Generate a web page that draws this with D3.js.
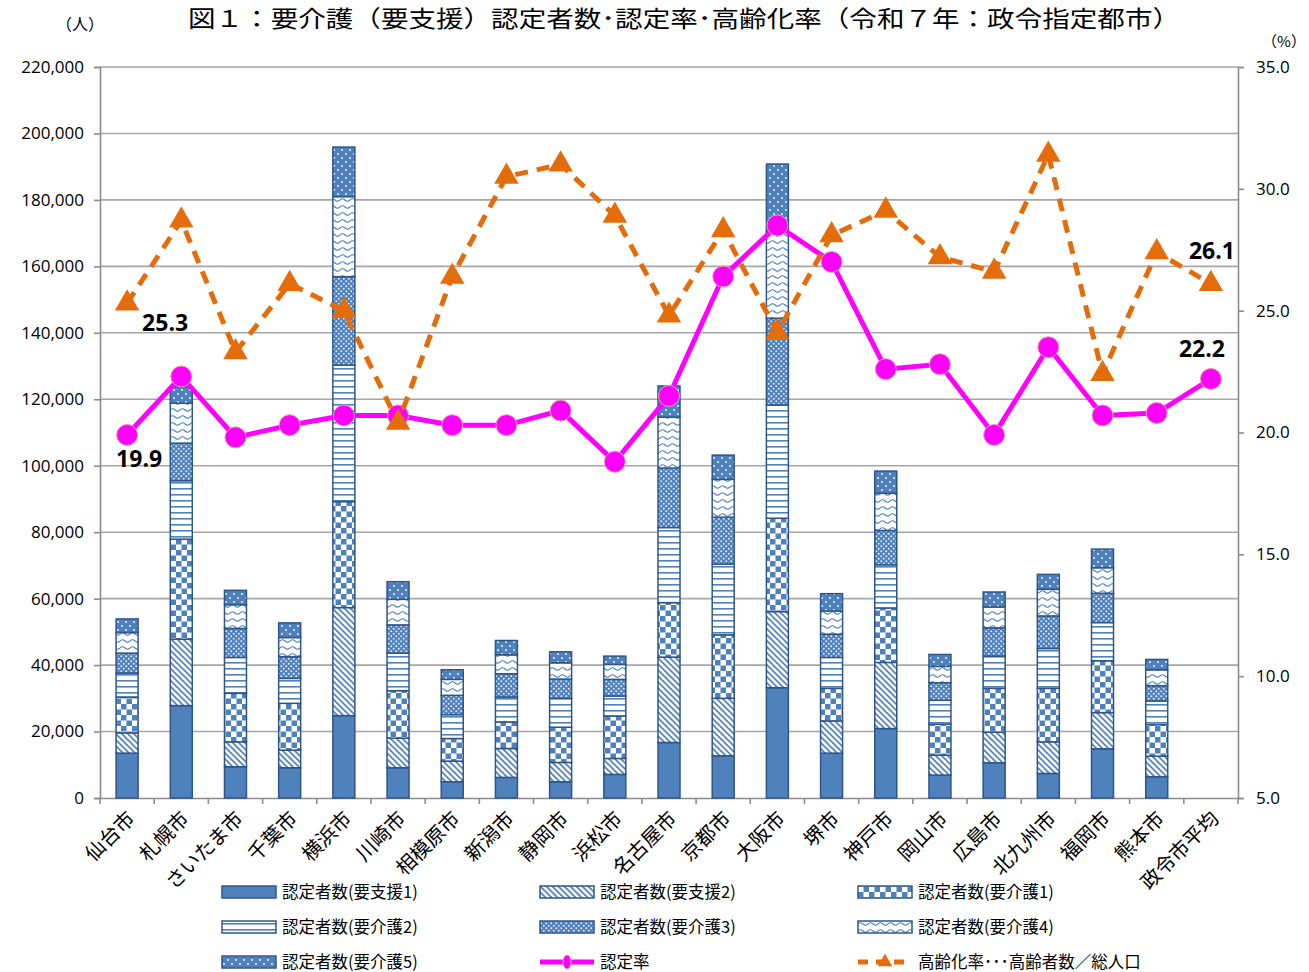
<!DOCTYPE html>
<html>
<head>
<meta charset="utf-8">
<script src="https://cdn.jsdelivr.net/npm/d3@7"></script>
<style>
  body { margin: 0; background: #fff; }
  svg { display: block; }
</style>
</head>
<body>
<div id="canvas"></div>
<script>
// --- data
var cities = ["仙台市","札幌市","さいたま市","千葉市","横浜市","川崎市","相模原市","新潟市","静岡市","浜松市","名古屋市",
              "京都市","大阪市","堺市","神戸市","岡山市","広島市","北九州市","福岡市","熊本市","政令市平均"];

var shien1 = [13500,27800, 9400, 9100,24800, 9100,4900,6200,4900,7100,16700,12700,33200,13500,20900,6900,10600, 7400,14800,6400,null];
var shien2 = [ 6100,20000, 7500, 5300,32500, 8900,6200,8700,5800,4800,25700,17300,22900, 9700,19900,6000, 9200, 9500,10900,6200,null];
var kaigo1 = [10800,30100,14600,14100,31900,14300,6800,8000,10600,12800,16400,19100,28100, 9800,16400,9300,13200,16100,15600,9500,null];
var kaigo2 = [ 7200,17600,10800, 7500,41100,11300,7200,7500,8700,6000,22600,21300,34100, 9300,13000,7200, 9700,12000,11500,7100,null];
var kaigo3 = [ 6000,11300, 8700, 6500,26600, 8500,5800,7000,5800,5000,17900,14100,26100, 7000,10300,5300, 8500, 9800, 8800,4600,null];
var kaigo4 = [ 6200,12000, 7200, 5800,24100, 7700,4800,5700,4900,4500,15300,11400,26000, 7000,11200,4900, 6300, 8000, 7700,4800,null];
var kaigo5 = [ 4100, 5000, 4300, 4400,14900, 5300,2900,4300,3300,2500, 9400, 7300,20400, 5200, 6700,3600, 4500, 4500, 5600,3100,null];

var ninteiRate = [19.9,22.3,19.8,20.3,20.7,20.7,20.3,20.3,20.9,18.8,21.5,26.4,28.5,27.0,22.6,22.8,19.9,23.5,20.7,20.8,22.2];
var agingRate  = [25.3,28.7,23.3,26.1,25.0,20.4,26.4,30.5,31.0,28.9,24.8,28.3,24.1,28.1,29.1,27.2,26.6,31.4,22.4,27.4,26.1];

var leftTicks  = [0,20000,40000,60000,80000,100000,120000,140000,160000,180000,200000,220000];
var rightTicks = [5,10,15,20,25,30,35];

var seriesNames = ["認定者数(要支援1)","認定者数(要支援2)","認定者数(要介護1)","認定者数(要介護2)",
                   "認定者数(要介護3)","認定者数(要介護4)","認定者数(要介護5)"];
var seriesData = [shien1, shien2, kaigo1, kaigo2, kaigo3, kaigo4, kaigo5];
var patternIds = ["pS1","pS2","pK1","pK2","pK3","pK4","pK5"];

// --- layout
var W = 1309, H = 972;
var M = {top: 67, right: 71, bottom: 174, left: 100};
var blue = "#4f81bd", dark = "#2f5689";
var fontJP = "'Noto Sans CJK JP', sans-serif";
var fontNum = "'Open Sans', 'Noto Sans', sans-serif";

var svg = d3.select("#canvas").append("svg")
  .attr("width", W).attr("height", H);

// --- patterns
var defs = svg.append("defs");
function pat(id, w, h) {
  return defs.append("pattern").attr("id", id)
    .attr("patternUnits", "userSpaceOnUse").attr("width", w).attr("height", h);
}
pat("pS1", 4, 4).append("rect").attr("width", 4).attr("height", 4).attr("fill", blue);

var p = pat("pS2", 6, 6);
p.append("rect").attr("width", 6).attr("height", 6).attr("fill", "#fff");
p.append("path").attr("d", "M-1,-1L7,7M-1,5L1,7M5,-1L7,1").attr("stroke", blue).attr("stroke-width", 1.6);

p = pat("pK1", 11, 11);
p.append("rect").attr("width", 11).attr("height", 11).attr("fill", "#fff");
p.append("rect").attr("width", 5.5).attr("height", 5.5).attr("fill", blue);
p.append("rect").attr("x", 5.5).attr("y", 5.5).attr("width", 5.5).attr("height", 5.5).attr("fill", blue);

p = pat("pK2", 6, 6);
p.append("rect").attr("width", 6).attr("height", 6).attr("fill", "#fff");
p.append("rect").attr("y", 2).attr("width", 6).attr("height", 1.6).attr("fill", blue);

p = pat("pK3", 5, 5);
p.append("rect").attr("width", 5).attr("height", 5).attr("fill", blue);
p.append("circle").attr("cx", 1.25).attr("cy", 1.25).attr("r", 1).attr("fill", "#dfe8f4");
p.append("circle").attr("cx", 3.75).attr("cy", 3.75).attr("r", 1).attr("fill", "#dfe8f4");

p = pat("pK4", 10, 7);
p.append("rect").attr("width", 10).attr("height", 7).attr("fill", "#fff");
p.append("path").attr("d", "M0,4 Q2.5,1.5 5,4 T10,4").attr("fill", "none").attr("stroke", blue).attr("stroke-width", 1.1);

p = pat("pK5", 8, 8);
p.append("rect").attr("width", 8).attr("height", 8).attr("fill", blue);
p.append("circle").attr("cx", 2).attr("cy", 2).attr("r", 0.9).attr("fill", "#fff");
p.append("circle").attr("cx", 6).attr("cy", 6).attr("r", 0.9).attr("fill", "#fff");

// --- scales
var x = d3.scaleBand().domain(cities).range([M.left, W - M.right]).padding(0);
var yL = d3.scaleLinear().domain([0, 220000]).range([H - M.bottom, M.top]);
var yR = d3.scaleLinear().domain([5, 35]).range([H - M.bottom, M.top]);
var barW = 22;

// --- title and unit labels
svg.append("text").attr("x", 684).attr("y", 27)
  .attr("text-anchor", "middle").attr("font-family", fontJP).attr("font-size", 23)
  .attr("textLength", 992).attr("lengthAdjust", "spacingAndGlyphs")
  .text("図１：要介護（要支援）認定者数･認定率･高齢化率（令和７年：政令指定都市）");
svg.append("text").attr("x", 80).attr("y", 30).attr("text-anchor", "middle")
  .attr("font-family", fontJP).attr("font-size", 16).text("（人）");
svg.append("text").attr("x", 1284).attr("y", 47).attr("text-anchor", "middle")
  .attr("font-family", fontJP).attr("font-size", 15).text("（%）");

// --- gridlines
svg.append("g").selectAll("line").data(leftTicks.slice(1)).enter().append("line")
  .attr("x1", M.left).attr("x2", W - M.right)
  .attr("y1", function(d){ return yL(d); }).attr("y2", function(d){ return yL(d); })
  .attr("stroke", "#a6a6a6").attr("stroke-width", 1.6);

// --- axes
var axL = svg.append("g").attr("transform", "translate(" + M.left + ",0)")
  .call(d3.axisLeft(yL).tickValues(leftTicks).tickFormat(d3.format(",")).tickSize(6).tickPadding(10));
var axR = svg.append("g").attr("transform", "translate(" + (W - M.right) + ",0)")
  .call(d3.axisRight(yR).tickValues(rightTicks).tickFormat(d3.format(".1f")).tickSize(6).tickPadding(12));
var axB = svg.append("g").attr("transform", "translate(0," + yL(0) + ")")
  .call(d3.axisBottom(x).tickSize(0).tickFormat(""));
// category separators under the axis
svg.append("g").selectAll("line").data(cities.concat(["_end"])).enter().append("line")
  .attr("x1", function(d, i){ return M.left + i * x.bandwidth(); })
  .attr("x2", function(d, i){ return M.left + i * x.bandwidth(); })
  .attr("y1", yL(0)).attr("y2", yL(0) + 6)
  .attr("stroke", "#8c8c8c").attr("stroke-width", 1.6);

[axL, axR, axB].forEach(function(a){
  a.select(".domain").attr("stroke", "#8c8c8c").attr("stroke-width", 1.6);
  a.selectAll(".tick line").attr("stroke", "#8c8c8c").attr("stroke-width", 1.6);
  a.selectAll("text").attr("font-family", fontNum).attr("font-size", 17).attr("fill", "#000");
});

// --- category labels
svg.append("g").selectAll("text").data(cities).enter().append("text")
  .attr("transform", function(d){
    return "translate(" + (x(d) + x.bandwidth()/2 + 4) + "," + (yL(0) + 17) + ") rotate(-45)";
  })
  .attr("text-anchor", "end").attr("dy", "0.35em")
  .attr("font-family", fontJP).attr("font-size", 20).text(function(d){ return d; });

// --- stacked bars
var rows = cities.map(function(c, i){
  var r = {city: c};
  seriesData.forEach(function(s, k){ r["s" + k] = s[i] || 0; });
  return r;
});
var stack = d3.stack().keys(seriesData.map(function(s, k){ return "s" + k; }));
var layers = stack(rows);

svg.append("g").selectAll("g").data(layers).enter().append("g")
  .attr("fill", function(d, k){ return "url(#" + patternIds[k] + ")"; })
  .selectAll("rect").data(function(d){ return d; }).enter().append("rect")
  .filter(function(d){ return d[1] - d[0] > 0; })
  .attr("x", function(d){ return x(d.data.city) + x.bandwidth()/2 - barW/2; })
  .attr("y", function(d){ return yL(d[1]); })
  .attr("width", barW)
  .attr("height", function(d){ return yL(d[0]) - yL(d[1]); })
  .attr("stroke", dark).attr("stroke-width", 1.5);

// --- lines
function cx(d, i){ return x(cities[i]) + x.bandwidth()/2; }
var lineRate = d3.line().x(cx).y(function(d){ return yR(d); });

svg.append("path").attr("d", lineRate(ninteiRate))
  .attr("fill", "none").attr("stroke", "#ff00ff").attr("stroke-width", 5);
svg.append("g").selectAll("circle").data(ninteiRate).enter().append("circle")
  .attr("cx", cx).attr("cy", function(d){ return yR(d); }).attr("r", 10.5)
  .attr("fill", "#ff00ff").attr("stroke", "#e3a3a3").attr("stroke-width", 1);

svg.append("path").attr("d", lineRate(agingRate))
  .attr("fill", "none").attr("stroke", "#e46c0a").attr("stroke-width", 5)
  .attr("stroke-dasharray", "13,9");
var tri = d3.symbol().type(d3.symbolTriangle).size(260);
svg.append("g").selectAll("path").data(agingRate).enter().append("path")
  .attr("d", tri).attr("fill", "#e46c0a")
  .attr("transform", function(d, i){ return "translate(" + cx(d, i) + "," + yR(d) + ")"; });

// --- data labels (first city and the average)
var last = cities.length - 1;
var labels = [
  {v: agingRate[0],    i: 0,    dx: 15,  dy: 28},
  {v: ninteiRate[0],   i: 0,    dx: -11, dy: 32},
  {v: agingRate[last], i: last, dx: -22, dy: -25},
  {v: ninteiRate[last],i: last, dx: -32, dy: -22}
];
svg.append("g").selectAll("text").data(labels).enter().append("text")
  .attr("x", function(d){ return cx(null, d.i) + d.dx; })
  .attr("y", function(d){ return yR(d.v) + d.dy; })
  .attr("font-family", fontNum).attr("font-weight", "bold").attr("font-size", 23)
  .text(function(d){ return d3.format(".1f")(d.v); });

// --- legend
var legend = seriesNames.map(function(n, k){ return {name: n, type: "bar", fill: "url(#" + patternIds[k] + ")"}; });
legend.push({name: "認定率", type: "rate"});
legend.push({name: "高齢化率･･･高齢者数／総人口", type: "aging"});
var lg = svg.append("g").selectAll("g").data(legend).enter().append("g")
  .attr("transform", function(d, i){
    return "translate(" + (222 + (i % 3) * 318) + "," + (892 + Math.floor(i / 3) * 35) + ")";
  });
lg.filter(function(d){ return d.type === "bar"; }).append("rect")
  .attr("x", 0).attr("y", -6).attr("width", 54).attr("height", 12)
  .attr("fill", function(d){ return d.fill; }).attr("stroke", dark).attr("stroke-width", 1.5);
var lr = lg.filter(function(d){ return d.type === "rate"; });
lr.append("line").attr("x1", 0).attr("x2", 54).attr("stroke", "#ff00ff").attr("stroke-width", 5);
lr.append("ellipse").attr("cx", 27).attr("rx", 4).attr("ry", 7).attr("fill", "#ff00ff").attr("stroke", "#e3a3a3");
var la = lg.filter(function(d){ return d.type === "aging"; });
la.append("line").attr("x1", 0).attr("x2", 54).attr("stroke", "#e46c0a").attr("stroke-width", 5)
  .attr("stroke-dasharray", "10,8");
la.append("path").attr("d", d3.symbol().type(d3.symbolTriangle).size(90))
  .attr("transform", "translate(27,0)").attr("fill", "#e46c0a");
lg.append("text").attr("x", 60).attr("y", 0).attr("dy", "0.35em")
  .attr("font-family", fontJP).attr("font-size", 16.5).text(function(d){ return d.name; });
</script>
</body>
</html>
